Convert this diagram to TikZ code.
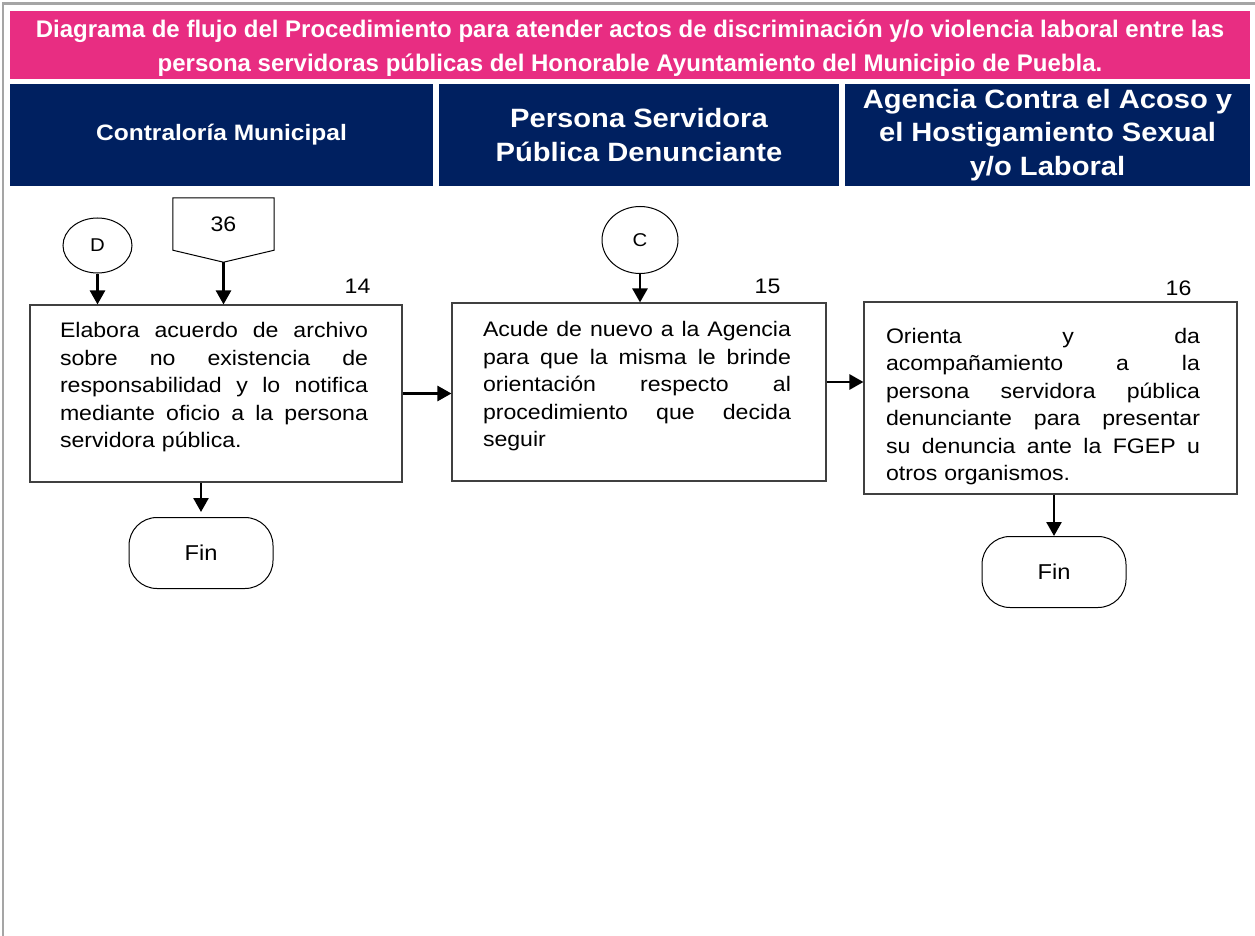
\documentclass[tikz,border=0pt]{standalone}
\usepackage{fontspec}
\setmainfont{Liberation Sans}
\newfontfamily\bodyfont[FakeStretch=1.1]{Liberation Sans}
\usetikzlibrary{shapes.geometric, arrows.meta, positioning, calc}

\definecolor{rosa}{RGB}{232,45,130}
\definecolor{marino}{RGB}{0,32,96}
\definecolor{marco}{RGB}{165,165,165}

% one justified line of a box text
\newcommand{\jl}[2][308pt]{\leavevmode\hbox to #1{\spaceskip=\fontdimen2\font plus 1fil\relax #2}\\}

\begin{document}
\begin{tikzpicture}[x=1pt, y=-1pt, > = {Triangle[width=15pt,length=14pt]},
    flecha/.style={->, line width=2.6pt},
    titulo/.style={fill=rosa, text=white, align=center, inner sep=0pt,
      font=\fontsize{24}{34}\selectfont\bfseries},
    carril/.style={fill=marino, text=white, align=center, inner sep=0pt,
      minimum height=102pt},
    proc/.style={draw=black!75, line width=1.1pt, inner sep=0pt, align=left,
      font=\bodyfont\fontsize{21}{27.5}\selectfont},
    conector/.style={ellipse, draw, line width=1pt, inner sep=0pt,
      font=\bodyfont\fontsize{18.5}{20}\selectfont},
    fin/.style={draw, line width=1pt, rounded corners=28pt, minimum width=144pt,
      minimum height=71pt, font=\bodyfont\fontsize{21.5}{24}\selectfont},
    num/.style={inner sep=0pt, font=\bodyfont\fontsize{21}{24}\selectfont}]
    \useasboundingbox (0,0) rectangle (1255,936);
    \fill[white] (0,0) rectangle (1255,936);
    \draw[marco, line width=2.5pt] (3,936) -- (3,3.5) -- (1255,3.5);

    % encabezados
    \node[titulo, minimum width=1240pt, minimum height=68pt] (tit) at (630,45)
      {\rule{0pt}{24pt}Diagrama de flujo del Procedimiento para atender actos de discriminación y/o violencia laboral entre las\\
       persona servidoras públicas del Honorable Ayuntamiento del Municipio de Puebla.};
    \node[carril, minimum width=423pt, font=\bodyfont\fontsize{22.3}{33}\selectfont\bfseries] (contra) at (221.5,135)
      {Contraloría Municipal};
    \node[carril, minimum width=400pt, font=\bodyfont\fontsize{26.5}{33.5}\selectfont\bfseries] (denun) at (639,135)
      {Persona Servidora\\Pública Denunciante};
    \node[carril, minimum width=405pt, font=\bodyfont\fontsize{26.5}{33.5}\selectfont\bfseries] (agencia) at (1047.5,135)
      {Agencia Contra el Acoso y\\el Hostigamiento Sexual\\y/o Laboral};

    % actividades
    \node[proc, minimum width=372pt, minimum height=177pt, text width=312pt] (b14) at (216,393.5)
      {\jl{Elabora acuerdo de archivo}
       \jl{sobre no existencia de}
       \jl{responsabilidad y lo notifica}
       \jl{mediante oficio a la persona}
       servidora pública.\rule[-16.3pt]{0pt}{16.3pt}};
    \node[proc, minimum width=374pt, minimum height=178pt, text width=312pt] (b15) at (639,392)
      {\jl{Acude de nuevo a la Agencia}
       \jl{para que la misma le brinde}
       \jl{orientación respecto al}
       \jl{procedimiento que decida}
       seguir\rule[-15.4pt]{0pt}{15.4pt}};
    \node[proc, minimum width=373pt, minimum height=192pt, text width=329pt] (b16) at (1050.5,398)
      {\jl[314pt]{\rule{0pt}{32.3pt}Orienta y da}
       \jl[314pt]{acompañamiento a la}
       \jl[314pt]{persona servidora pública}
       \jl[314pt]{denunciante para presentar}
       \jl[314pt]{su denuncia ante la FGEP u}
       otros organismos.};
    \node[num] (n14) at ($(b14.north east)+(-45,-18)$) {14};
    \node[num] (n15) at ($(b15.north east)+(-59,-16)$) {15};
    \node[num] (n16) at ($(b16.north east)+(-59,-13)$) {16};

    % conectores
    \node[conector, minimum width=69pt, minimum height=55pt] (d) at (97.5,245.5) {D};
    \node[conector, minimum width=76pt, minimum height=67pt] (c) at (640,240) {C};
    \node[num, minimum width=101pt, minimum height=52pt] (p36) at (223.5,224) {36};
    \draw[line width=1pt] (p36.south west) -- (p36.north west) -- (p36.north east) -- (p36.south east)
      -- ($(p36.south)+(0,12)$) coordinate (p36tip) -- cycle;

    \node[fin] (f14) at (201,553) {Fin};
    \node[fin] (f16) at (1054,572) {Fin};

    \draw[flecha] (d) -- (d |- b14.north);
    \draw[flecha] (p36tip) -- (p36tip |- b14.north);
    \draw[flecha] (c) -- (c |- b15.north);
    \draw[flecha] (b14.east) -- (b14.east -| b15.west);
    \draw[flecha] ([yshift=10pt]b15.east) -- ([yshift=10pt]b15.east -| b16.west);
    \draw[flecha, shorten >=5pt] (f14.north |- b14.south) -- (f14.north);
    \draw[flecha] (f16.north |- b16.south) -- (f16.north);
\end{tikzpicture}
\end{document}
